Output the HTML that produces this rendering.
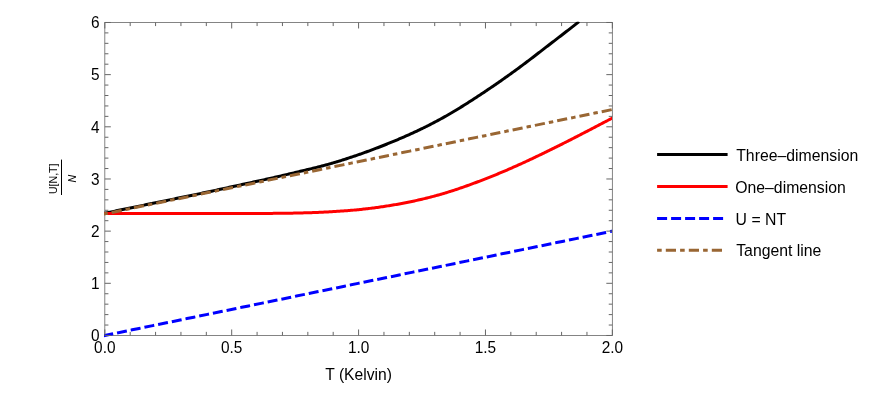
<!DOCTYPE html>
<html><head><meta charset="utf-8"><title>plot</title>
<style>
html,body{margin:0;padding:0;background:#fff;}
body{width:872px;height:408px;overflow:hidden;}
svg{display:block;}
text{font-family:"Liberation Sans",sans-serif;font-size:15.8px;fill:#000;}
.tk{font-size:15.4px}
svg{will-change:transform}
</style></head><body>
<svg width="872" height="408" viewBox="0 0 872 408">
<rect x="0" y="0" width="872" height="408" fill="#fff"/>
<defs><clipPath id="c"><rect x="104" y="21.7" width="508" height="317"/></clipPath></defs>
<rect x="104.82" y="22.47" width="507.52" height="313.00" stroke="#666" stroke-width="0.8" fill="none"/>
<g clip-path="url(#c)" fill="none" stroke-width="3.0" stroke-linejoin="round" stroke-linecap="square">
<path d="M104.82,213.19 L106.09,212.93 L107.36,212.67 L108.63,212.41 L109.90,212.15 L111.16,211.89 L112.43,211.63 L113.70,211.37 L114.97,211.10 L116.24,210.84 L117.51,210.58 L118.78,210.32 L120.05,210.06 L121.31,209.80 L122.58,209.54 L123.85,209.28 L125.12,209.02 L126.39,208.76 L127.66,208.50 L128.93,208.24 L130.20,207.97 L131.46,207.71 L132.73,207.45 L134.00,207.19 L135.27,206.93 L136.54,206.67 L137.81,206.41 L139.08,206.15 L140.35,205.89 L141.62,205.63 L142.88,205.37 L144.15,205.11 L145.42,204.84 L146.69,204.58 L147.96,204.32 L149.23,204.06 L150.50,203.80 L151.77,203.54 L153.03,203.28 L154.30,203.02 L155.57,202.76 L156.84,202.50 L158.11,202.24 L159.38,201.98 L160.65,201.71 L161.92,201.45 L163.18,201.19 L164.45,200.93 L165.72,200.67 L166.99,200.41 L168.26,200.15 L169.53,199.89 L170.80,199.63 L172.07,199.37 L173.34,199.11 L174.60,198.85 L175.87,198.58 L177.14,198.32 L178.41,198.06 L179.68,197.80 L180.95,197.54 L182.22,197.28 L183.49,197.02 L184.75,196.76 L186.02,196.50 L187.29,196.24 L188.56,195.98 L189.83,195.72 L191.10,195.45 L192.37,195.19 L193.64,194.93 L194.90,194.67 L196.17,194.41 L197.44,194.15 L198.71,193.88 L199.98,193.62 L201.25,193.35 L202.52,193.08 L203.79,192.81 L205.06,192.54 L206.32,192.27 L207.59,192.00 L208.86,191.73 L210.13,191.46 L211.40,191.19 L212.67,190.92 L213.94,190.64 L215.21,190.37 L216.47,190.10 L217.74,189.82 L219.01,189.55 L220.28,189.27 L221.55,188.99 L222.82,188.72 L224.09,188.44 L225.36,188.17 L226.62,187.89 L227.89,187.61 L229.16,187.34 L230.43,187.06 L231.70,186.78 L232.97,186.50 L234.24,186.23 L235.51,185.95 L236.78,185.67 L238.04,185.40 L239.31,185.12 L240.58,184.84 L241.85,184.57 L243.12,184.29 L244.39,184.01 L245.66,183.74 L246.93,183.46 L248.19,183.18 L249.46,182.91 L250.73,182.63 L252.00,182.36 L253.27,182.08 L254.54,181.81 L255.81,181.54 L257.08,181.26 L258.34,180.98 L259.61,180.71 L260.88,180.43 L262.15,180.15 L263.42,179.87 L264.69,179.59 L265.96,179.31 L267.23,179.03 L268.50,178.74 L269.76,178.46 L271.03,178.18 L272.30,177.89 L273.57,177.60 L274.84,177.31 L276.11,177.02 L277.38,176.73 L278.65,176.44 L279.91,176.15 L281.18,175.85 L282.45,175.56 L283.72,175.26 L284.99,174.96 L286.26,174.66 L287.53,174.36 L288.80,174.06 L290.06,173.76 L291.33,173.45 L292.60,173.15 L293.87,172.84 L295.14,172.54 L296.41,172.23 L297.68,171.92 L298.95,171.62 L300.22,171.32 L301.48,171.01 L302.75,170.71 L304.02,170.41 L305.29,170.11 L306.56,169.81 L307.83,169.51 L309.10,169.20 L310.37,168.90 L311.63,168.59 L312.90,168.29 L314.17,167.98 L315.44,167.66 L316.71,167.35 L317.98,167.03 L319.25,166.71 L320.52,166.38 L321.78,166.05 L323.05,165.72 L324.32,165.37 L325.59,165.03 L326.86,164.68 L328.13,164.32 L329.40,163.96 L330.67,163.60 L331.94,163.23 L333.20,162.86 L334.47,162.49 L335.74,162.11 L337.01,161.73 L338.28,161.35 L339.55,160.96 L340.82,160.56 L342.09,160.17 L343.35,159.76 L344.62,159.36 L345.89,158.95 L347.16,158.54 L348.43,158.12 L349.70,157.70 L350.97,157.28 L352.24,156.85 L353.50,156.43 L354.77,155.99 L356.04,155.56 L357.31,155.12 L358.58,154.68 L359.85,154.24 L361.12,153.80 L362.39,153.35 L363.66,152.90 L364.92,152.44 L366.19,151.99 L367.46,151.53 L368.73,151.06 L370.00,150.60 L371.27,150.13 L372.54,149.65 L373.81,149.18 L375.07,148.70 L376.34,148.22 L377.61,147.73 L378.88,147.24 L380.15,146.75 L381.42,146.26 L382.69,145.76 L383.96,145.26 L385.22,144.75 L386.49,144.25 L387.76,143.73 L389.03,143.22 L390.30,142.70 L391.57,142.18 L392.84,141.66 L394.11,141.13 L395.38,140.60 L396.64,140.06 L397.91,139.53 L399.18,138.99 L400.45,138.44 L401.72,137.89 L402.99,137.34 L404.26,136.79 L405.53,136.23 L406.79,135.66 L408.06,135.10 L409.33,134.53 L410.60,133.95 L411.87,133.38 L413.14,132.80 L414.41,132.21 L415.68,131.62 L416.94,131.03 L418.21,130.43 L419.48,129.83 L420.75,129.22 L422.02,128.61 L423.29,128.00 L424.56,127.38 L425.83,126.75 L427.10,126.12 L428.36,125.48 L429.63,124.84 L430.90,124.19 L432.17,123.53 L433.44,122.87 L434.71,122.20 L435.98,121.53 L437.25,120.85 L438.51,120.17 L439.78,119.48 L441.05,118.78 L442.32,118.08 L443.59,117.37 L444.86,116.66 L446.13,115.94 L447.40,115.21 L448.66,114.48 L449.93,113.75 L451.20,113.01 L452.47,112.26 L453.74,111.51 L455.01,110.75 L456.28,109.99 L457.55,109.22 L458.82,108.45 L460.08,107.67 L461.35,106.88 L462.62,106.10 L463.89,105.30 L465.16,104.51 L466.43,103.71 L467.70,102.90 L468.97,102.09 L470.23,101.28 L471.50,100.46 L472.77,99.64 L474.04,98.82 L475.31,97.99 L476.58,97.16 L477.85,96.33 L479.12,95.50 L480.38,94.66 L481.65,93.82 L482.92,92.98 L484.19,92.13 L485.46,91.29 L486.73,90.44 L488.00,89.59 L489.27,88.74 L490.54,87.88 L491.80,87.02 L493.07,86.16 L494.34,85.29 L495.61,84.42 L496.88,83.55 L498.15,82.67 L499.42,81.79 L500.69,80.90 L501.95,80.02 L503.22,79.13 L504.49,78.23 L505.76,77.33 L507.03,76.43 L508.30,75.53 L509.57,74.62 L510.84,73.71 L512.10,72.80 L513.37,71.88 L514.64,70.96 L515.91,70.04 L517.18,69.11 L518.45,68.18 L519.72,67.25 L520.99,66.31 L522.26,65.36 L523.52,64.42 L524.79,63.47 L526.06,62.51 L527.33,61.55 L528.60,60.59 L529.87,59.63 L531.14,58.66 L532.41,57.69 L533.67,56.71 L534.94,55.74 L536.21,54.76 L537.48,53.79 L538.75,52.81 L540.02,51.83 L541.29,50.85 L542.56,49.87 L543.82,48.89 L545.09,47.91 L546.36,46.93 L547.63,45.95 L548.90,44.97 L550.17,44.00 L551.44,43.03 L552.71,42.05 L553.98,41.08 L555.24,40.10 L556.51,39.13 L557.78,38.16 L559.05,37.18 L560.32,36.21 L561.59,35.23 L562.86,34.25 L564.13,33.27 L565.39,32.29 L566.66,31.30 L567.93,30.32 L569.20,29.32 L570.47,28.33 L571.74,27.33 L573.01,26.33 L574.28,25.32 L575.54,24.31 L576.81,23.30 L577.84,22.47" stroke="#000"/>
<path d="M104.82,213.50 L106.09,213.50 L107.36,213.50 L108.63,213.50 L109.90,213.50 L111.16,213.50 L112.43,213.50 L113.70,213.50 L114.97,213.50 L116.24,213.50 L117.51,213.50 L118.78,213.50 L120.05,213.50 L121.31,213.50 L122.58,213.50 L123.85,213.50 L125.12,213.50 L126.39,213.50 L127.66,213.50 L128.93,213.50 L130.20,213.50 L131.46,213.50 L132.73,213.50 L134.00,213.50 L135.27,213.50 L136.54,213.50 L137.81,213.50 L139.08,213.50 L140.35,213.50 L141.62,213.50 L142.88,213.50 L144.15,213.50 L145.42,213.50 L146.69,213.50 L147.96,213.50 L149.23,213.50 L150.50,213.50 L151.77,213.50 L153.03,213.50 L154.30,213.50 L155.57,213.50 L156.84,213.50 L158.11,213.50 L159.38,213.50 L160.65,213.50 L161.92,213.50 L163.18,213.50 L164.45,213.50 L165.72,213.50 L166.99,213.50 L168.26,213.50 L169.53,213.50 L170.80,213.50 L172.07,213.50 L173.34,213.50 L174.60,213.50 L175.87,213.50 L177.14,213.50 L178.41,213.50 L179.68,213.50 L180.95,213.50 L182.22,213.50 L183.49,213.50 L184.75,213.50 L186.02,213.50 L187.29,213.50 L188.56,213.50 L189.83,213.50 L191.10,213.50 L192.37,213.50 L193.64,213.50 L194.90,213.50 L196.17,213.50 L197.44,213.50 L198.71,213.50 L199.98,213.50 L201.25,213.50 L202.52,213.50 L203.79,213.50 L205.06,213.50 L206.32,213.50 L207.59,213.50 L208.86,213.50 L210.13,213.50 L211.40,213.50 L212.67,213.50 L213.94,213.50 L215.21,213.50 L216.47,213.50 L217.74,213.50 L219.01,213.50 L220.28,213.50 L221.55,213.50 L222.82,213.50 L224.09,213.50 L225.36,213.50 L226.62,213.50 L227.89,213.50 L229.16,213.50 L230.43,213.50 L231.70,213.50 L232.97,213.50 L234.24,213.50 L235.51,213.50 L236.78,213.50 L238.04,213.50 L239.31,213.50 L240.58,213.49 L241.85,213.49 L243.12,213.49 L244.39,213.49 L245.66,213.49 L246.93,213.49 L248.19,213.48 L249.46,213.48 L250.73,213.48 L252.00,213.48 L253.27,213.47 L254.54,213.47 L255.81,213.47 L257.08,213.46 L258.34,213.46 L259.61,213.45 L260.88,213.45 L262.15,213.44 L263.42,213.44 L264.69,213.43 L265.96,213.42 L267.23,213.42 L268.50,213.41 L269.76,213.40 L271.03,213.39 L272.30,213.38 L273.57,213.37 L274.84,213.36 L276.11,213.35 L277.38,213.34 L278.65,213.33 L279.91,213.31 L281.18,213.30 L282.45,213.28 L283.72,213.27 L284.99,213.25 L286.26,213.23 L287.53,213.21 L288.80,213.19 L290.06,213.17 L291.33,213.15 L292.60,213.13 L293.87,213.10 L295.14,213.08 L296.41,213.05 L297.68,213.02 L298.95,213.00 L300.22,212.97 L301.48,212.93 L302.75,212.90 L304.02,212.87 L305.29,212.83 L306.56,212.79 L307.83,212.75 L309.10,212.71 L310.37,212.67 L311.63,212.63 L312.90,212.58 L314.17,212.53 L315.44,212.49 L316.71,212.43 L317.98,212.38 L319.25,212.33 L320.52,212.27 L321.78,212.21 L323.05,212.15 L324.32,212.09 L325.59,212.02 L326.86,211.96 L328.13,211.89 L329.40,211.82 L330.67,211.74 L331.94,211.67 L333.20,211.59 L334.47,211.51 L335.74,211.43 L337.01,211.35 L338.28,211.26 L339.55,211.18 L340.82,211.09 L342.09,211.00 L343.35,210.91 L344.62,210.82 L345.89,210.73 L347.16,210.64 L348.43,210.54 L349.70,210.44 L350.97,210.34 L352.24,210.23 L353.50,210.12 L354.77,210.01 L356.04,209.89 L357.31,209.77 L358.58,209.65 L359.85,209.52 L361.12,209.39 L362.39,209.25 L363.66,209.11 L364.92,208.97 L366.19,208.83 L367.46,208.68 L368.73,208.53 L370.00,208.38 L371.27,208.22 L372.54,208.06 L373.81,207.90 L375.07,207.73 L376.34,207.56 L377.61,207.39 L378.88,207.21 L380.15,207.04 L381.42,206.85 L382.69,206.67 L383.96,206.48 L385.22,206.29 L386.49,206.09 L387.76,205.89 L389.03,205.69 L390.30,205.48 L391.57,205.27 L392.84,205.06 L394.11,204.85 L395.38,204.63 L396.64,204.40 L397.91,204.18 L399.18,203.95 L400.45,203.71 L401.72,203.47 L402.99,203.23 L404.26,202.99 L405.53,202.74 L406.79,202.49 L408.06,202.23 L409.33,201.98 L410.60,201.71 L411.87,201.45 L413.14,201.18 L414.41,200.91 L415.68,200.63 L416.94,200.35 L418.21,200.07 L419.48,199.78 L420.75,199.49 L422.02,199.19 L423.29,198.89 L424.56,198.59 L425.83,198.28 L427.10,197.97 L428.36,197.65 L429.63,197.33 L430.90,197.00 L432.17,196.67 L433.44,196.33 L434.71,195.99 L435.98,195.65 L437.25,195.29 L438.51,194.94 L439.78,194.58 L441.05,194.21 L442.32,193.84 L443.59,193.47 L444.86,193.09 L446.13,192.71 L447.40,192.32 L448.66,191.93 L449.93,191.53 L451.20,191.13 L452.47,190.72 L453.74,190.31 L455.01,189.89 L456.28,189.47 L457.55,189.05 L458.82,188.62 L460.08,188.19 L461.35,187.75 L462.62,187.31 L463.89,186.87 L465.16,186.42 L466.43,185.97 L467.70,185.52 L468.97,185.06 L470.23,184.60 L471.50,184.13 L472.77,183.66 L474.04,183.19 L475.31,182.72 L476.58,182.24 L477.85,181.76 L479.12,181.28 L480.38,180.80 L481.65,180.31 L482.92,179.82 L484.19,179.33 L485.46,178.84 L486.73,178.35 L488.00,177.85 L489.27,177.35 L490.54,176.85 L491.80,176.34 L493.07,175.83 L494.34,175.32 L495.61,174.80 L496.88,174.28 L498.15,173.76 L499.42,173.23 L500.69,172.70 L501.95,172.17 L503.22,171.63 L504.49,171.09 L505.76,170.55 L507.03,170.01 L508.30,169.46 L509.57,168.91 L510.84,168.35 L512.10,167.80 L513.37,167.24 L514.64,166.68 L515.91,166.11 L517.18,165.54 L518.45,164.97 L519.72,164.40 L520.99,163.82 L522.26,163.25 L523.52,162.67 L524.79,162.08 L526.06,161.50 L527.33,160.91 L528.60,160.32 L529.87,159.73 L531.14,159.13 L532.41,158.54 L533.67,157.94 L534.94,157.33 L536.21,156.73 L537.48,156.13 L538.75,155.52 L540.02,154.91 L541.29,154.30 L542.56,153.68 L543.82,153.07 L545.09,152.45 L546.36,151.83 L547.63,151.21 L548.90,150.59 L550.17,149.97 L551.44,149.34 L552.71,148.72 L553.98,148.09 L555.24,147.46 L556.51,146.83 L557.78,146.19 L559.05,145.56 L560.32,144.92 L561.59,144.29 L562.86,143.65 L564.13,143.01 L565.39,142.37 L566.66,141.72 L567.93,141.08 L569.20,140.44 L570.47,139.79 L571.74,139.14 L573.01,138.49 L574.28,137.84 L575.54,137.19 L576.81,136.54 L578.08,135.89 L579.35,135.24 L580.62,134.58 L581.89,133.93 L583.16,133.27 L584.43,132.61 L585.70,131.96 L586.96,131.30 L588.23,130.64 L589.50,129.98 L590.77,129.32 L592.04,128.66 L593.31,128.00 L594.58,127.34 L595.85,126.68 L597.11,126.01 L598.38,125.35 L599.65,124.69 L600.92,124.03 L602.19,123.36 L603.46,122.70 L604.73,122.03 L606.00,121.37 L607.26,120.71 L608.53,120.04 L609.80,119.38 L611.07,118.71 L612.34,118.05" stroke="#f00"/>
<path d="M104.82,335.47 L612.34,231.14" stroke="#00f" stroke-dasharray="7 6.98"/>
<path d="M104.82,213.82 L612.34,109.48" stroke="#963" stroke-dasharray="1.5 7 7.2 7.04"/>
</g>
<g stroke="#666" stroke-width="1" fill="none">
<line x1="104.82" y1="335.47" x2="104.82" y2="329.47" />
<line x1="104.82" y1="22.47" x2="104.82" y2="28.47" />
<line x1="130.20" y1="335.47" x2="130.20" y2="331.87" />
<line x1="130.20" y1="22.47" x2="130.20" y2="26.07" />
<line x1="155.57" y1="335.47" x2="155.57" y2="331.87" />
<line x1="155.57" y1="22.47" x2="155.57" y2="26.07" />
<line x1="180.95" y1="335.47" x2="180.95" y2="331.87" />
<line x1="180.95" y1="22.47" x2="180.95" y2="26.07" />
<line x1="206.32" y1="335.47" x2="206.32" y2="331.87" />
<line x1="206.32" y1="22.47" x2="206.32" y2="26.07" />
<line x1="231.70" y1="335.47" x2="231.70" y2="329.47" />
<line x1="231.70" y1="22.47" x2="231.70" y2="28.47" />
<line x1="257.08" y1="335.47" x2="257.08" y2="331.87" />
<line x1="257.08" y1="22.47" x2="257.08" y2="26.07" />
<line x1="282.45" y1="335.47" x2="282.45" y2="331.87" />
<line x1="282.45" y1="22.47" x2="282.45" y2="26.07" />
<line x1="307.83" y1="335.47" x2="307.83" y2="331.87" />
<line x1="307.83" y1="22.47" x2="307.83" y2="26.07" />
<line x1="333.20" y1="335.47" x2="333.20" y2="331.87" />
<line x1="333.20" y1="22.47" x2="333.20" y2="26.07" />
<line x1="358.58" y1="335.47" x2="358.58" y2="329.47" />
<line x1="358.58" y1="22.47" x2="358.58" y2="28.47" />
<line x1="383.96" y1="335.47" x2="383.96" y2="331.87" />
<line x1="383.96" y1="22.47" x2="383.96" y2="26.07" />
<line x1="409.33" y1="335.47" x2="409.33" y2="331.87" />
<line x1="409.33" y1="22.47" x2="409.33" y2="26.07" />
<line x1="434.71" y1="335.47" x2="434.71" y2="331.87" />
<line x1="434.71" y1="22.47" x2="434.71" y2="26.07" />
<line x1="460.08" y1="335.47" x2="460.08" y2="331.87" />
<line x1="460.08" y1="22.47" x2="460.08" y2="26.07" />
<line x1="485.46" y1="335.47" x2="485.46" y2="329.47" />
<line x1="485.46" y1="22.47" x2="485.46" y2="28.47" />
<line x1="510.84" y1="335.47" x2="510.84" y2="331.87" />
<line x1="510.84" y1="22.47" x2="510.84" y2="26.07" />
<line x1="536.21" y1="335.47" x2="536.21" y2="331.87" />
<line x1="536.21" y1="22.47" x2="536.21" y2="26.07" />
<line x1="561.59" y1="335.47" x2="561.59" y2="331.87" />
<line x1="561.59" y1="22.47" x2="561.59" y2="26.07" />
<line x1="586.96" y1="335.47" x2="586.96" y2="331.87" />
<line x1="586.96" y1="22.47" x2="586.96" y2="26.07" />
<line x1="612.34" y1="335.47" x2="612.34" y2="329.47" />
<line x1="612.34" y1="22.47" x2="612.34" y2="28.47" />
<line x1="104.82" y1="335.47" x2="110.82" y2="335.47" />
<line x1="612.34" y1="335.47" x2="606.34" y2="335.47" />
<line x1="104.82" y1="325.04" x2="108.42" y2="325.04" />
<line x1="612.34" y1="325.04" x2="608.74" y2="325.04" />
<line x1="104.82" y1="314.60" x2="108.42" y2="314.60" />
<line x1="612.34" y1="314.60" x2="608.74" y2="314.60" />
<line x1="104.82" y1="304.17" x2="108.42" y2="304.17" />
<line x1="612.34" y1="304.17" x2="608.74" y2="304.17" />
<line x1="104.82" y1="293.74" x2="108.42" y2="293.74" />
<line x1="612.34" y1="293.74" x2="608.74" y2="293.74" />
<line x1="104.82" y1="283.30" x2="110.82" y2="283.30" />
<line x1="612.34" y1="283.30" x2="606.34" y2="283.30" />
<line x1="104.82" y1="272.87" x2="108.42" y2="272.87" />
<line x1="612.34" y1="272.87" x2="608.74" y2="272.87" />
<line x1="104.82" y1="262.44" x2="108.42" y2="262.44" />
<line x1="612.34" y1="262.44" x2="608.74" y2="262.44" />
<line x1="104.82" y1="252.00" x2="108.42" y2="252.00" />
<line x1="612.34" y1="252.00" x2="608.74" y2="252.00" />
<line x1="104.82" y1="241.57" x2="108.42" y2="241.57" />
<line x1="612.34" y1="241.57" x2="608.74" y2="241.57" />
<line x1="104.82" y1="231.14" x2="110.82" y2="231.14" />
<line x1="612.34" y1="231.14" x2="606.34" y2="231.14" />
<line x1="104.82" y1="220.70" x2="108.42" y2="220.70" />
<line x1="612.34" y1="220.70" x2="608.74" y2="220.70" />
<line x1="104.82" y1="210.27" x2="108.42" y2="210.27" />
<line x1="612.34" y1="210.27" x2="608.74" y2="210.27" />
<line x1="104.82" y1="199.84" x2="108.42" y2="199.84" />
<line x1="612.34" y1="199.84" x2="608.74" y2="199.84" />
<line x1="104.82" y1="189.40" x2="108.42" y2="189.40" />
<line x1="612.34" y1="189.40" x2="608.74" y2="189.40" />
<line x1="104.82" y1="178.97" x2="110.82" y2="178.97" />
<line x1="612.34" y1="178.97" x2="606.34" y2="178.97" />
<line x1="104.82" y1="168.54" x2="108.42" y2="168.54" />
<line x1="612.34" y1="168.54" x2="608.74" y2="168.54" />
<line x1="104.82" y1="158.10" x2="108.42" y2="158.10" />
<line x1="612.34" y1="158.10" x2="608.74" y2="158.10" />
<line x1="104.82" y1="147.67" x2="108.42" y2="147.67" />
<line x1="612.34" y1="147.67" x2="608.74" y2="147.67" />
<line x1="104.82" y1="137.24" x2="108.42" y2="137.24" />
<line x1="612.34" y1="137.24" x2="608.74" y2="137.24" />
<line x1="104.82" y1="126.80" x2="110.82" y2="126.80" />
<line x1="612.34" y1="126.80" x2="606.34" y2="126.80" />
<line x1="104.82" y1="116.37" x2="108.42" y2="116.37" />
<line x1="612.34" y1="116.37" x2="608.74" y2="116.37" />
<line x1="104.82" y1="105.94" x2="108.42" y2="105.94" />
<line x1="612.34" y1="105.94" x2="608.74" y2="105.94" />
<line x1="104.82" y1="95.50" x2="108.42" y2="95.50" />
<line x1="612.34" y1="95.50" x2="608.74" y2="95.50" />
<line x1="104.82" y1="85.07" x2="108.42" y2="85.07" />
<line x1="612.34" y1="85.07" x2="608.74" y2="85.07" />
<line x1="104.82" y1="74.64" x2="110.82" y2="74.64" />
<line x1="612.34" y1="74.64" x2="606.34" y2="74.64" />
<line x1="104.82" y1="64.20" x2="108.42" y2="64.20" />
<line x1="612.34" y1="64.20" x2="608.74" y2="64.20" />
<line x1="104.82" y1="53.77" x2="108.42" y2="53.77" />
<line x1="612.34" y1="53.77" x2="608.74" y2="53.77" />
<line x1="104.82" y1="43.34" x2="108.42" y2="43.34" />
<line x1="612.34" y1="43.34" x2="608.74" y2="43.34" />
<line x1="104.82" y1="32.90" x2="108.42" y2="32.90" />
<line x1="612.34" y1="32.90" x2="608.74" y2="32.90" />
<line x1="104.82" y1="22.47" x2="110.82" y2="22.47" />
<line x1="612.34" y1="22.47" x2="606.34" y2="22.47" />
</g>
<text transform="translate(104.82,353.2) scale(1,1.07)" text-anchor="middle" class="tk">0.0</text>
<text transform="translate(231.70,353.2) scale(1,1.07)" text-anchor="middle" class="tk">0.5</text>
<text transform="translate(358.58,353.2) scale(1,1.07)" text-anchor="middle" class="tk">1.0</text>
<text transform="translate(485.46,353.2) scale(1,1.07)" text-anchor="middle" class="tk">1.5</text>
<text transform="translate(612.34,353.2) scale(1,1.07)" text-anchor="middle" class="tk">2.0</text>
<text transform="translate(99.6,341.17) scale(1,1.07)" text-anchor="end" class="tk">0</text>
<text transform="translate(99.6,289.00) scale(1,1.07)" text-anchor="end" class="tk">1</text>
<text transform="translate(99.6,236.84) scale(1,1.07)" text-anchor="end" class="tk">2</text>
<text transform="translate(99.6,184.67) scale(1,1.07)" text-anchor="end" class="tk">3</text>
<text transform="translate(99.6,132.50) scale(1,1.07)" text-anchor="end" class="tk">4</text>
<text transform="translate(99.6,80.34) scale(1,1.07)" text-anchor="end" class="tk">5</text>
<text transform="translate(99.6,28.17) scale(1,1.07)" text-anchor="end" class="tk">6</text>
<text transform="translate(358.6,379.6) scale(1,1.07)" text-anchor="middle" style="font-size:15.65px">T (Kelvin)</text>
<g transform="translate(0,0)">
<g transform="translate(56.7,178.8) rotate(-90)"><text x="0" y="0" text-anchor="middle" style="font-size:10.6px">U[N,T]</text></g>
<line x1="61.5" y1="159.6" x2="61.5" y2="195" stroke="#000" stroke-width="1"/>
<g transform="translate(76.3,178.6) rotate(-90)"><text x="0" y="0" text-anchor="middle" style="font-size:10.6px;font-style:italic">N</text></g>
</g>
<g fill="none" stroke-width="3.0" stroke-linecap="square">
<path d="M658.6,154.4 H726.1" stroke="#000"/>
<path d="M658.6,186.5 H726.1" stroke="#f00"/>
<path d="M658.6,218.5 H726.1" stroke="#00f" stroke-dasharray="7 7"/>
<path d="M658.6,250.3 H726.1" stroke="#963" stroke-dasharray="1.6 7.1 7.2 7.1"/>
</g>
<text transform="translate(736.2,160.5) scale(1,1.07)">Three–dimension</text>
<text transform="translate(735.2,192.6) scale(1,1.07)">One–dimension</text>
<text transform="translate(735.6,224.6) scale(1,1.07)">U = NT</text>
<text transform="translate(736.2,256.4) scale(1,1.07)">Tangent line</text>
</svg>
</body></html>
